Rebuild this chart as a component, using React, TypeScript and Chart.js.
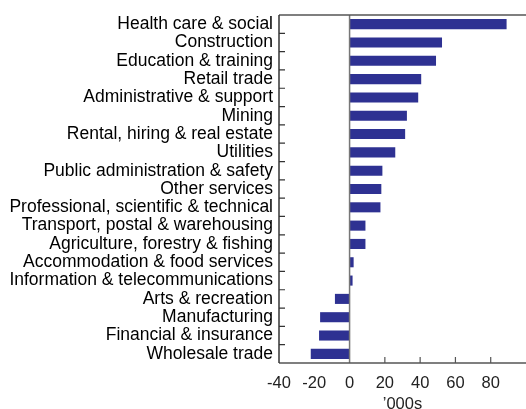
import React, { useEffect, useRef } from "react";
import { Chart, registerables } from "chart.js";

Chart.register(...registerables);

const categories = [
  "Health care & social",
  "Construction",
  "Education & training",
  "Retail trade",
  "Administrative & support",
  "Mining",
  "Rental, hiring & real estate",
  "Utilities",
  "Public administration & safety",
  "Other services",
  "Professional, scientific & technical",
  "Transport, postal & warehousing",
  "Agriculture, forestry & fishing",
  "Accommodation & food services",
  "Information & telecommunications",
  "Arts & recreation",
  "Manufacturing",
  "Financial & insurance",
  "Wholesale trade",
];

const changeValues = [
  89, 52.4, 49, 40.6, 38.9, 32.5, 31.5, 25.9, 18.6, 18, 17.5, 9, 9, 2.3, 1.7,
  -8.3, -16.7, -17.3, -22,
];

const xTickValues = [-40, -20, 0, 20, 40, 60, 80];
const xInnerTicks = [20, 40, 60, 80];

const framePlugin = {
  id: "frame",
  afterDraw(chart: any) {
    const { ctx, chartArea } = chart;
    const { left, right, top, bottom } = chartArea;
    const x = chart.scales.x;
    const y = chart.scales.y;
    ctx.save();
    const zx = x.getPixelForValue(0);
    ctx.strokeStyle = "#777";
    ctx.lineWidth = 1.5;
    ctx.beginPath();
    ctx.moveTo(zx, top);
    ctx.lineTo(zx, bottom);
    ctx.stroke();
    ctx.strokeStyle = "#555";
    ctx.lineWidth = 1.5;
    ctx.beginPath();
    ctx.moveTo(left, top);
    ctx.lineTo(right, top);
    ctx.moveTo(left, bottom);
    ctx.lineTo(right, bottom);
    ctx.stroke();
    ctx.strokeStyle = "#333";
    ctx.beginPath();
    ctx.moveTo(left, top);
    ctx.lineTo(left, bottom);
    ctx.stroke();
    ctx.lineWidth = 1.2;
    ctx.beginPath();
    for (let i = 1; i < categories.length; i++) {
      const py = (y.getPixelForValue(i - 1) + y.getPixelForValue(i)) / 2;
      ctx.moveTo(left, py);
      ctx.lineTo(left + 6, py);
    }
    ctx.stroke();
    ctx.strokeStyle = "#555";
    ctx.beginPath();
    for (const v of xInnerTicks) {
      const px = x.getPixelForValue(v);
      ctx.moveTo(px, bottom);
      ctx.lineTo(px, bottom - 6);
    }
    ctx.stroke();
    ctx.restore();
  },
};

export default function App() {
  const ref = useRef<HTMLCanvasElement | null>(null);
  useEffect(() => {
    if (!ref.current) return;
    const chart = new Chart(ref.current, {
      type: "bar",
      data: {
        labels: categories,
        datasets: [
          {
            data: changeValues,
            backgroundColor: "#2e3192",
            borderWidth: 0,
            barPercentage: 0.55,
            categoryPercentage: 1,
          },
        ],
      },
      options: {
        indexAxis: "y",
        animation: false,
        responsive: false,
        maintainAspectRatio: false,
        layout: { padding: { top: 15, left: 0, right: 0, bottom: 0 } },
        plugins: {
          legend: { display: false },
          tooltip: { enabled: false },
          title: { display: false },
        },
        scales: {
          x: {
            type: "linear",
            min: -40,
            max: 100,
            afterBuildTicks: (scale: any) => {
              scale.ticks = [...xTickValues, 100].map((v) => ({ value: v }));
            },
            ticks: {
              stepSize: 20,
              padding: 11,
              color: "#222",
              font: { family: "Liberation Sans, Arial, sans-serif", size: 16.5 },
              maxRotation: 0,
              autoSkip: false,
              callback: (v: any) => (xTickValues.includes(Number(v)) ? String(v) : ""),
            },
            grid: { display: false, drawTicks: false, tickLength: 0 },
            border: { display: false },
            title: {
              display: true,
              text: "’000s",
              color: "#222",
              font: { family: "Liberation Sans, Arial, sans-serif", size: 16.5, lineHeight: 0.6 },
              padding: { top: 0, bottom: 0 },
            },
            afterFit: (scale: any) => {
              scale.height = 46;
              scale.paddingRight = 0;
              scale.paddingLeft = 0;
            },
          },
          y: {
            type: "category",
            ticks: {
              padding: 6,
              color: "#000",
              autoSkip: false,
              font: { family: "Liberation Sans, Arial, sans-serif", size: 17.5 },
            },
            grid: { display: false, drawTicks: false, tickLength: 0 },
            border: { display: false },
            afterFit: (scale: any) => {
              scale.width = 279;
              scale.paddingTop = 0;
              scale.paddingBottom = 0;
            },
          },
        },
      },
      plugins: [framePlugin],
    });
    return () => chart.destroy();
  }, []);
  return (
    <div style={{ position: "fixed", left: 0, top: 0, width: 526, height: 409, background: "#fff" }}>
      <canvas ref={ref} width={526} height={409} />
    </div>
  );
}
